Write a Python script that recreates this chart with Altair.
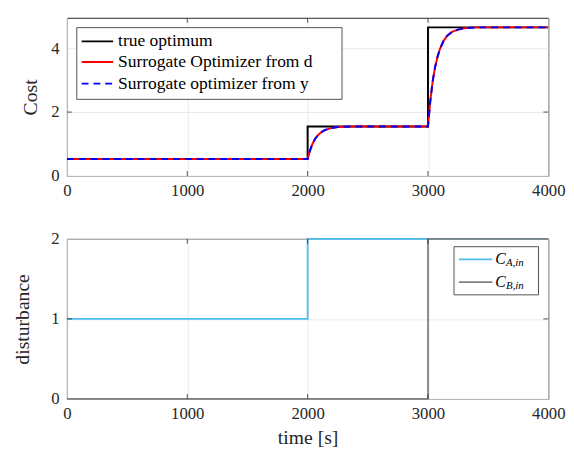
import altair as alt
import pandas as pd

# ---------------- data ----------------
t_true = [0, 2000, 2000, 3000, 3000, 4000]
cost_true = [0.53, 0.53, 1.55, 1.55, 4.65, 4.65]

t_sur = [0, 2000, 2020, 2040, 2060, 2080, 2100, 2130, 2160, 2200, 2250, 2300, 2400,
         3000, 3020, 3040, 3060, 3080, 3100, 3130, 3160, 3200, 3250, 3300, 3400, 4000]
cost_sur_d = [0.53, 0.53, 0.80, 1.00, 1.15, 1.25, 1.33, 1.41, 1.46, 1.50, 1.53, 1.54, 1.55,
              1.55, 2.37, 2.99, 3.42, 3.74, 3.98, 4.23, 4.39, 4.51, 4.58, 4.62, 4.65, 4.65]
cost_sur_y = [0.53, 0.53, 0.80, 1.00, 1.15, 1.25, 1.33, 1.41, 1.46, 1.50, 1.53, 1.54, 1.55,
              1.55, 2.37, 2.99, 3.42, 3.74, 3.98, 4.23, 4.39, 4.51, 4.58, 4.62, 4.65, 4.65]

t_ca = [0, 2000, 2000, 4000]
c_a = [1, 1, 2, 2]
t_cb = [0, 3000, 3000, 4000]
c_b = [0, 0, 2, 2]

x_ticks = [0, 1000, 2000, 3000, 4000]
y_ticks_top = [0, 2, 4]
y_ticks_bot = [0, 1, 2]
legend_top = ["true optimum", "Surrogate Optimizer from d", "Surrogate optimizer from y"]

# ---------------- style ----------------
FONT = "Liberation Serif"
AX = "#262626"
W = 490
H1 = 161
H2 = 163
one = alt.Data(values=[{"a": 1}])


def series(t, v):
    return pd.DataFrame({"t": t, "v": v, "i": list(range(len(t)))})


xs = alt.Scale(domain=[0, 4000], nice=False, zero=False)


def xaxis(title=None):
    return alt.Axis(values=x_ticks, title=title, format=".0f", labelOverlap=False,
                    labelFlush=False, labelPadding=7, titlePadding=6)


def line(df, color, width, ysc, yax, xax, dash=None, clip=True):
    kw = dict(color=color, strokeWidth=width, clip=clip)
    if dash:
        kw["strokeDash"] = dash
    return alt.Chart(df).mark_line(**kw).encode(
        x=alt.X("t:Q", scale=xs, axis=xax),
        y=alt.Y("v:Q", scale=ysc, axis=yax),
        order="i:Q",
    )


def inner_ticks(yvals, ysc, h, yax, xax):
    xt = pd.DataFrame({"t": x_ticks[1:-1]})
    yt = pd.DataFrame({"v": yvals[1:-1]})
    a = alt.Chart(xt).mark_rule(color=AX, strokeWidth=0.8).encode(
        x=alt.X("t:Q", scale=xs, axis=xax), y=alt.value(0), y2=alt.value(5))
    b = alt.Chart(xt).mark_rule(color=AX, strokeWidth=0.8).encode(
        x=alt.X("t:Q", scale=xs, axis=xax), y=alt.value(h - 5), y2=alt.value(h))
    c = alt.Chart(yt).mark_rule(color=AX, strokeWidth=0.8).encode(
        y=alt.Y("v:Q", scale=ysc, axis=yax), x=alt.value(0), x2=alt.value(5))
    d = alt.Chart(yt).mark_rule(color=AX, strokeWidth=0.8).encode(
        y=alt.Y("v:Q", scale=ysc, axis=yax), x=alt.value(W - 5), x2=alt.value(W))
    return [a, b, c, d]


def box(x1, x2, y1, y2):
    return alt.Chart(one).mark_rect(fill="white", stroke=AX, strokeWidth=0.8).encode(
        x=alt.value(x1), x2=alt.value(x2), y=alt.value(y1), y2=alt.value(y2))


def seg(x1, x2, y, color, width, dash=None):
    kw = dict(color=color, strokeWidth=width)
    if dash:
        kw["strokeDash"] = dash
    return alt.Chart(one).mark_rule(**kw).encode(
        x=alt.value(x1), x2=alt.value(x2), y=alt.value(y))


def txt(x, y, s, size=17.8, style="normal", baseline="middle"):
    return alt.Chart(one).mark_text(text=s, font=FONT, fontSize=size, fontStyle=style,
                                    align="left", baseline=baseline, color="black").encode(
        x=alt.value(x), y=alt.value(y))


# ---------------- top panel ----------------
ys1 = alt.Scale(domain=[0, 4.95], nice=False)
yax1 = alt.Axis(values=y_ticks_top, title="Cost", titlePadding=10, labelPadding=8,
                format=".0f", labelOverlap=False, labelFlush=False)
xax1 = xaxis()

top_layers = [
    line(series(t_true, cost_true), "black", 2, ys1, yax1, xax1),
    line(series(t_sur, cost_sur_d), "#ff0000", 2, ys1, yax1, xax1),
    line(series(t_sur, cost_sur_y), "#0000ff", 2, ys1, yax1, xax1, dash=[7, 5]),
] + inner_ticks(y_ticks_top, ys1, H1, yax1, xax1) + [
    box(10, 280, 10, 83),
    seg(15, 47, 24, "black", 2),
    seg(15, 47, 45, "#ff0000", 2),
    seg(15, 47, 67, "#0000ff", 2, dash=[7, 5]),
    txt(52, 24, legend_top[0]),
    txt(52, 45, legend_top[1]),
    txt(52, 67, legend_top[2]),
]
top = alt.layer(*top_layers).properties(width=W, height=H1)

# ---------------- bottom panel ----------------
ys2 = alt.Scale(domain=[0, 2], nice=False)
yax2 = alt.Axis(values=y_ticks_bot, title="disturbance", titlePadding=19, labelPadding=8,
                format=".0f", labelOverlap=False, labelFlush=False)
xax2 = xaxis("time [s]")

bot_layers = [
    line(series(t_ca, c_a), "#4dbeee", 1.8, ys2, yax2, xax2, clip=False),
    line(series(t_cb, c_b), "#808080", 1.8, ys2, yax2, xax2, clip=False),
] + inner_ticks(y_ticks_bot, ys2, H2, yax2, xax2) + [
    box(394, 480, 8, 57),
    seg(399, 433, 21, "#4dbeee", 1.8),
    seg(399, 433, 44, "#808080", 1.8),
    txt(436, 21, "C", size=16, style="italic"),
    txt(447, 25, "A,in", size=11, style="italic"),
    txt(436, 44, "C", size=16, style="italic"),
    txt(447, 48, "B,in", size=11, style="italic"),
]
bot = alt.layer(*bot_layers).properties(width=W, height=H2)

chart = alt.vconcat(top, bot, spacing=30).configure(
    padding={"left": 4, "top": 5, "right": 0, "bottom": 0}, background="white"
).configure_view(
    stroke=AX, strokeWidth=1
).configure_axis(
    labelFont=FONT, labelFontSize=17, labelColor=AX,
    titleFont=FONT, titleFontSize=20, titleFontWeight="normal", titleColor=AX,
    domain=False, ticks=False, grid=True, gridColor="#e3e3e3", gridWidth=0.8,
)

chart.save("out.html", embed_options={"renderer": "svg", "actions": False})
